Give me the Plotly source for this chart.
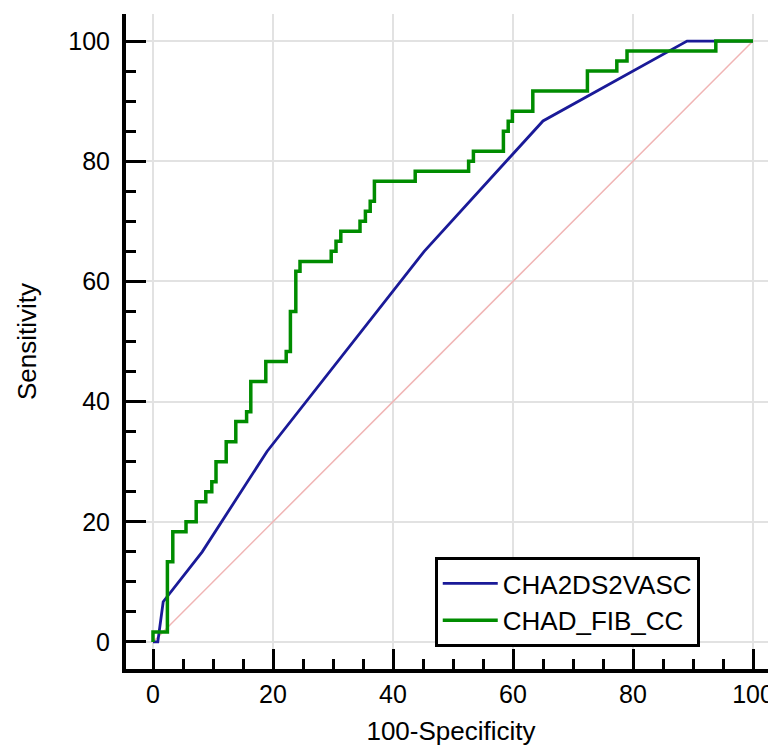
import plotly.graph_objects as go

# ROC data (100-Specificity, Sensitivity)
cha_fpr = [0, 0.8, 1.7, 8.2, 19.0, 45.2, 65.0, 89.0, 100]
cha_tpr = [0, 0, 6.7, 15.0, 31.7, 65.0, 86.7, 100, 100]

fib_fpr = [0, 0, 2.4, 3.3, 5.5, 7.2, 8.8, 9.8, 10.5, 12.2, 13.8, 15.6, 16.3, 18.8,
           22.2, 22.9, 23.8, 24.5, 29.7, 30.5, 31.3, 34.5, 35.4, 36.2, 36.9, 43.7,
           52.6, 53.4, 58.4, 59.2, 59.9, 63.3, 72.4, 77.3, 79.0, 93.8, 100]
fib_tpr = [0, 1.67, 13.33, 18.33, 20.0, 23.33, 25.0, 26.67, 30.0, 33.33, 36.67, 38.33,
           43.33, 46.67, 48.33, 55.0, 61.67, 63.33, 65.0, 66.67, 68.33, 70.0, 71.67,
           73.33, 76.67, 78.33, 80.0, 81.67, 85.0, 86.67, 88.33, 91.67, 95.0, 96.67,
           98.33, 100, 100]

diag = [0, 100]
tick_vals = [0, 20, 40, 60, 80, 100]

FONT = "Liberation Sans, Arial, sans-serif"

fig = go.Figure()
fig.add_trace(go.Scatter(x=diag, y=diag, mode="lines",
                         line=dict(color="#F0B4B4", width=1.5),
                         showlegend=False, hoverinfo="skip"))
fig.add_trace(go.Scatter(x=cha_fpr, y=cha_tpr, mode="lines", name="CHA2DS2VASC",
                         line=dict(color="#1A1A98", width=2.8)))
fig.add_trace(go.Scatter(x=fib_fpr, y=fib_tpr, mode="lines", name="CHAD_FIB_CC",
                         line=dict(color="#008C00", width=3.5, shape="hv")))

axis_common = dict(
    showline=True, linecolor="black", linewidth=4, mirror=False,
    ticks="inside", ticklen=20, tickwidth=2.5, tickcolor="black",
    tickvals=tick_vals, tickfont=dict(family=FONT, size=25, color="black"),
    showgrid=True, gridcolor="#E2E2E2", gridwidth=2, zeroline=False,
    automargin=False,
    minor=dict(dtick=5, tick0=0, ticks="inside", ticklen=10, tickwidth=2.5,
               tickcolor="black", showgrid=False),
)

fig.update_xaxes(range=[-4.5, 103.83], title=dict(text="100-Specificity",
                 font=dict(family=FONT, size=26, color="black"), standoff=16),
                 ticklabelstandoff=0, **axis_common)
fig.update_yaxes(range=[-4.5, 104.5], title=dict(text="Sensitivity",
                 font=dict(family=FONT, size=26, color="black"), standoff=25),
                 ticklabelstandoff=7, **axis_common)

fig.update_layout(
    width=768, height=741,
    margin=dict(l=118, r=0, t=6, b=80),
    plot_bgcolor="white", paper_bgcolor="white",
    font=dict(family=FONT, color="black"),
    legend=dict(x=0.475, y=0.171, xanchor="left", yanchor="top",
                bordercolor="black", borderwidth=3, bgcolor="white",
                font=dict(family=FONT, size=26, color="black"),
                itemwidth=55, tracegroupgap=0),
)

fig.write_html("out.html")
